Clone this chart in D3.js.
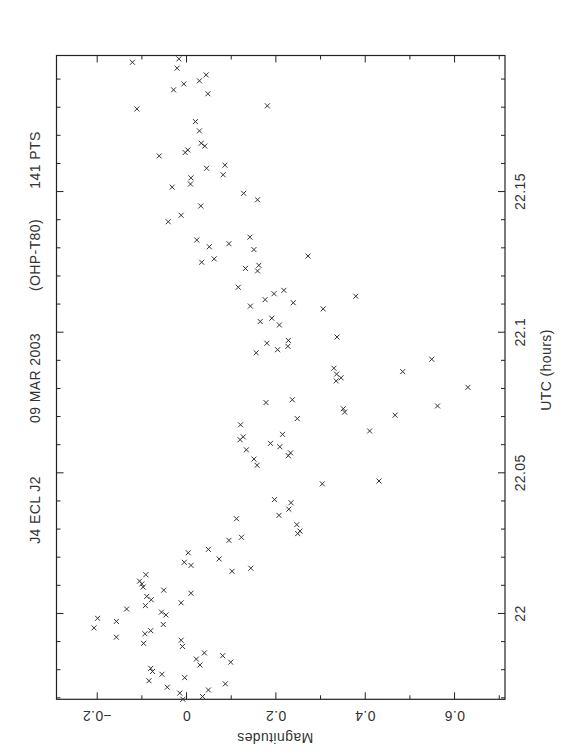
<!DOCTYPE html>
<html>
<head>
<meta charset="utf-8">
<script src="https://cdn.jsdelivr.net/npm/d3@7"></script>
<style>
  body { margin: 0; background: #fff; }
  svg text { font-family: "Liberation Sans", Arial, sans-serif; fill: #333; letter-spacing: 0.4px; }
</style>
</head>
<body>
<div id="chart"></div>
<script>
// UTC (hours) of each measurement
const utc = [
  22.1970, 22.1958, 22.1937, 22.1913, 22.1892, 22.1881, 22.1860, 22.1846, 22.1803, 22.1792,
  22.1747, 22.1714, 22.1670, 22.1660, 22.1646, 22.1637, 22.1625, 22.1592, 22.1581, 22.1558,
  22.1547, 22.1525, 22.1514, 22.1492, 22.1469, 22.1447, 22.1414, 22.1391, 22.1336, 22.1326,
  22.1313, 22.1302, 22.1292, 22.1269, 22.1259, 22.1247, 22.1236, 22.1225, 22.1216, 22.1158,
  22.1147, 22.1135, 22.1126, 22.1114, 22.1103, 22.1091, 22.1081, 22.1048, 22.1036, 22.1024,
  22.0981, 22.0969, 22.0959, 22.0948, 22.0936, 22.0925, 22.0902, 22.0870, 22.0858, 22.0849,
  22.0836, 22.0825, 22.0802, 22.0758, 22.0748, 22.0736, 22.0726, 22.0714, 22.0703, 22.0691,
  22.0669, 22.0647, 22.0635, 22.0626, 22.0616, 22.0603, 22.0591, 22.0580, 22.0569, 22.0559,
  22.0547, 22.0525, 22.0469, 22.0459, 22.0403, 22.0392, 22.0369, 22.0347, 22.0335, 22.0314,
  22.0291, 22.0282, 22.0269, 22.0258, 22.0226, 22.0214, 22.0192, 22.0180, 22.0169, 22.0159,
  22.0148, 22.0136, 22.0113, 22.0103, 22.0092, 22.0081, 22.0070, 22.0059, 22.0047, 22.0036,
  22.0026, 22.0014, 22.0003, 21.9993, 21.9981, 21.9970, 21.9959, 21.9947, 21.9937, 21.9926,
  21.9914, 21.9903, 21.9892, 21.9881, 21.9858, 21.9848, 21.9836, 21.9825, 21.9815, 21.9803,
  21.9792, 21.9782, 21.9770, 21.9759, 21.9748, 21.9736, 21.9726, 21.9715, 21.9703, 21.9693
];

// differential magnitude, same order
const mag = [
  -0.016, -0.120, -0.020, 0.045, 0.030, -0.005, -0.028, 0.049, 0.182, -0.110,
  0.021, 0.030, 0.034, 0.042, 0.004, -0.002, -0.060, 0.087, 0.046, 0.083,
  0.011, 0.010, -0.031, 0.129, 0.160, 0.033, -0.011, -0.040, 0.143, 0.024,
  0.096, 0.052, 0.152, 0.273, 0.063, 0.035, 0.163, 0.133, 0.160, 0.117,
  0.219, 0.197, 0.380, 0.177, 0.240, 0.144, 0.307, 0.192, 0.166, 0.209,
  0.338, 0.229, 0.181, 0.228, 0.205, 0.157, 0.550, 0.331, 0.485, 0.337,
  0.347, 0.336, 0.631, 0.238, 0.179, 0.563, 0.352, 0.355, 0.468, 0.249,
  0.122, 0.411, 0.216, 0.128, 0.121, 0.189, 0.210, 0.135, 0.234, 0.229,
  0.152, 0.159, 0.432, 0.305, 0.198, 0.235, 0.230, 0.208, 0.113, 0.248,
  0.255, 0.250, 0.124, 0.096, 0.050, 0.005, 0.074, -0.004, 0.011, 0.145,
  0.103, -0.090, -0.104, -0.099, -0.096, -0.050, 0.011, -0.088, -0.078, -0.011,
  -0.091, -0.133, -0.055, -0.045, -0.198, -0.156, -0.051, -0.206, -0.079, -0.092,
  -0.156, -0.011, -0.095, -0.008, 0.041, 0.082, 0.023, 0.100, 0.031, -0.079,
  -0.075, -0.054, -0.003, -0.083, 0.088, -0.042, 0.050, -0.014, 0.037, -0.007
];

const magTicks = [-0.2, 0, 0.2, 0.4, 0.6];
const magMinor = [-0.1, 0.1, 0.3, 0.5, 0.7];
const utcTicks = [22, 22.05, 22.1, 22.15];
const utcMinor = d3.range(-3, 20).map(i => 22 + i / 100).filter(v => !utcTicks.some(t => Math.abs(t - v) < 1e-6));
const titleParts = ["J4 ECL J2", "09 MAR 2003", "(OHP-T80)", "141 PTS"];

const width = 562;
const height = 756;
const plotL = 56.5, plotR = 505, plotT = 55.5, plotB = 699.3;

const svg = d3.select("#chart")
  .append("svg")
  .attr("width", width)
  .attr("height", height)
  .attr("viewBox", [0, 0, width, height]);

svg.append("rect").attr("width", width).attr("height", height).attr("fill", "#fff");

const x = d3.scaleLinear().domain([-0.29, 0.714]).range([plotL, plotR]);
const y = d3.scaleLinear().domain([21.9693, 22.1982]).range([plotB, plotT]);
const fmt = d3.format("~g");

// tick marks on all four sides, pointing inwards
function ticks(axis, values, size, pos) {
  const g = svg.append("g")
    .attr("transform", pos)
    .call(axis.tickValues(values).tickSize(size).tickSizeOuter(0).tickFormat(""));
  g.select(".domain").remove();
  g.selectAll(".tick line").attr("stroke", "#222");
  return g;
}

ticks(d3.axisBottom(x), magMinor, -4, `translate(0,${plotB})`);
ticks(d3.axisTop(x), magMinor, -4, `translate(0,${plotT})`);
ticks(d3.axisTop(x), magTicks, -7, `translate(0,${plotT})`);
ticks(d3.axisLeft(y), utcMinor, -4, `translate(${plotL},0)`);
ticks(d3.axisLeft(y), utcTicks, -7, `translate(${plotL},0)`);
ticks(d3.axisRight(y), utcMinor, -4, `translate(${plotR},0)`);

// labelled axes
const bottomAxis = svg.append("g")
  .attr("transform", `translate(0,${plotB})`)
  .call(d3.axisBottom(x).tickValues(magTicks).tickSize(-7).tickSizeOuter(0).tickFormat(fmt));
bottomAxis.select(".domain").remove();
bottomAxis.selectAll(".tick line").attr("stroke", "#222");
bottomAxis.selectAll(".tick text")
  .attr("y", 0).attr("dy", null)
  .attr("transform", "translate(0,17) rotate(180)")
  .attr("dominant-baseline", "central")
  .attr("font-size", 14)
  .attr("fill", "#333");
bottomAxis.attr("font-family", null);

const rightAxis = svg.append("g")
  .attr("transform", `translate(${plotR},0)`)
  .call(d3.axisRight(y).tickValues(utcTicks).tickSize(-7).tickSizeOuter(0).tickFormat(fmt));
rightAxis.select(".domain").remove();
rightAxis.selectAll(".tick line").attr("stroke", "#222");
rightAxis.selectAll(".tick text")
  .attr("x", 0).attr("dy", null)
  .attr("transform", "translate(15,0) rotate(-90)")
  .attr("text-anchor", "middle")
  .attr("dominant-baseline", "central")
  .attr("font-size", 14)
  .attr("fill", "#333");
rightAxis.attr("font-family", null);

// frame
svg.append("rect")
  .attr("x", plotL).attr("y", plotT)
  .attr("width", plotR - plotL).attr("height", plotB - plotT)
  .attr("fill", "none")
  .attr("stroke", "#222")
  .attr("stroke-width", 1.2);

// axis titles
svg.append("text")
  .attr("transform", "translate(275,738) rotate(180)")
  .attr("text-anchor", "middle")
  .attr("dominant-baseline", "central")
  .attr("font-size", 14)
  .text("Magnitudes");

svg.append("text")
  .attr("transform", "translate(546,370) rotate(-90)")
  .attr("text-anchor", "middle")
  .attr("dominant-baseline", "central")
  .attr("font-size", 14)
  .text("UTC (hours)");

// title, written along the left edge
const titleY = [510, 378, 255, 160];
svg.append("g")
  .selectAll("text")
  .data(titleParts)
  .join("text")
  .attr("transform", (d, i) => `translate(35,${titleY[i]}) rotate(-90)`)
  .attr("text-anchor", "middle")
  .attr("dominant-baseline", "central")
  .attr("font-size", 14)
  .text(d => d);

// points
const pts = utc.map((t, i) => ({ t, m: mag[i] }));
svg.append("g")
  .selectAll("path")
  .data(pts)
  .join("path")
  .attr("transform", d => `translate(${x(d.m)},${y(d.t)})`)
  .attr("d", "M-2.5,-2.5L2.5,2.5M-2.5,2.5L2.5,-2.5")
  .attr("stroke", "#333")
  .attr("stroke-width", 1)
  .attr("fill", "none");
</script>
</body>
</html>
